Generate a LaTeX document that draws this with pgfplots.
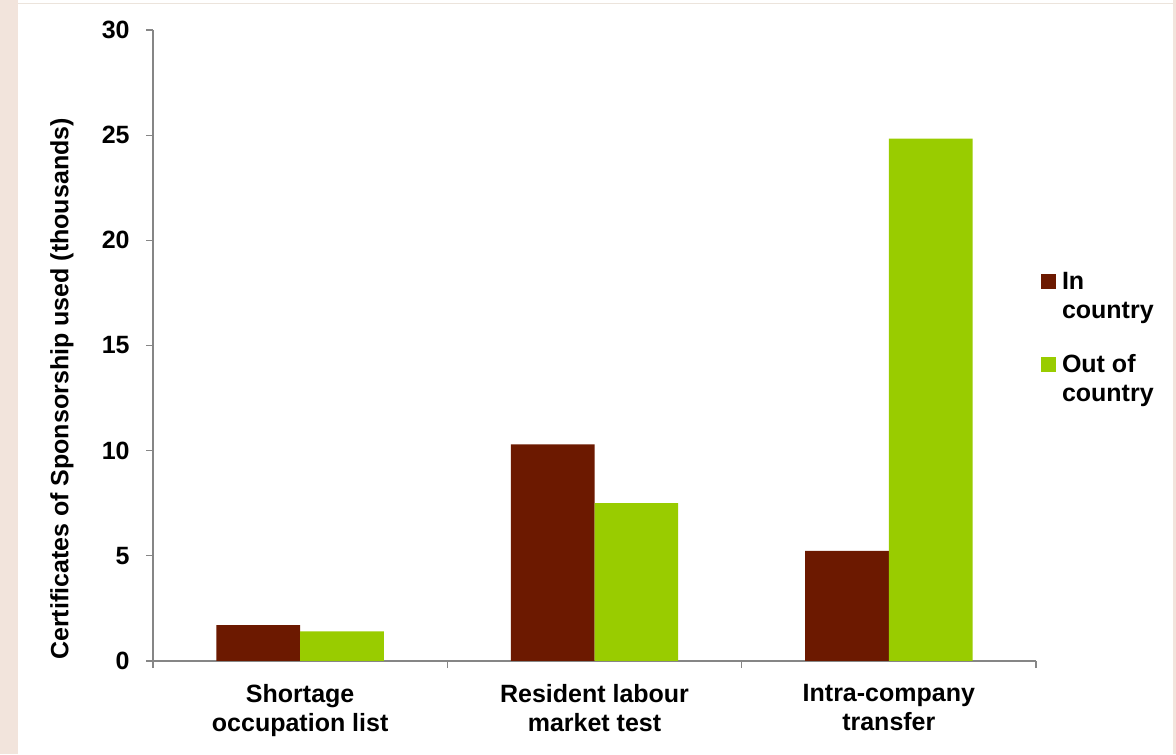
\documentclass[border=0pt]{standalone}
\usepackage{fontspec}
\setmainfont{Liberation Sans}
\usepackage{pgfplots}
\pgfplotsset{compat=1.18}
\definecolor{darkred}{RGB}{108,25,0}
\definecolor{lgreen}{RGB}{153,204,0}
\definecolor{beige}{RGB}{242,228,220}
\definecolor{topline}{RGB}{236,228,220}
\definecolor{axgray}{RGB}{134,134,134}
\newcommand{\chartfont}{\fontsize{12.5pt}{14.5pt}\selectfont\bfseries}
\begin{document}
\begin{tikzpicture}
\path[use as bounding box, fill=white] (0,0) rectangle (588pt,377pt);
\fill[beige] (0,0) rectangle (9pt,377pt);
\fill[beige] (586.5pt,0) rectangle (588pt,377pt);
\draw[topline, line width=0.65pt] (9pt,375.35pt) -- (586.5pt,375.35pt);
\begin{axis}[
  at={(76.5pt,46.5pt)}, anchor=south west,
  width=441.5pt, height=315.5pt, scale only axis,
  xmin=-0.5, xmax=2.5, ymin=0, ymax=30,
  enlargelimits=false,
  axis x line*=bottom, axis y line*=left,
  xtick pos=bottom, ytick pos=left,
  axis line style={-, axgray, line width=0.65pt},
  tick style={axgray, line width=0.65pt},
  tick align=outside, major tick length=3.5pt,
  xtick={-0.5,0.5,1.5,2.5},
  x tick label as interval,
  xticklabels={Shortage\\occupation list, Resident labour\\market test, Intra-company\\transfer},
  xticklabel style={align=center, inner sep=0pt, font=\chartfont, anchor=north, yshift=-8pt},
  ytick={0,5,...,30},
  yticklabel style={inner sep=0pt, font=\chartfont, anchor=east, xshift=-8pt},
  /pgf/number format/assume math mode=true,
  ylabel={Certificates of Sponsorship used (thousands)},
  ylabel style={at={(axis description cs:-0.1031,0.431)}, anchor=center, font=\chartfont},
  ybar, bar width=0.2845,
  legend image code/.code={\fill[#1] (0pt,0pt) rectangle (7.5pt,7.5pt);},
  legend style={draw=none, fill=none, inner sep=0pt, outer sep=0pt,
    at={(axis description cs:1.00566,0.6164)}, anchor=north west,
    row sep=31pt, column sep=3pt, cells={anchor=base west},
    nodes={inner sep=0pt, font=\chartfont}},
]
\addplot[fill=darkred, draw=none, bar shift=-0.14225] coordinates {(0,1.70) (1,10.30) (2,5.23)};
\addlegendentry{\vtop{\hbox{In}\hbox{country}}}
\addplot[fill=lgreen, draw=none, bar shift=0.14225] coordinates {(0,1.41) (1,7.50) (2,24.83)};
\addlegendentry{\vtop{\hbox{Out of}\hbox{country}}}
\end{axis}
\end{tikzpicture}
\end{document}
